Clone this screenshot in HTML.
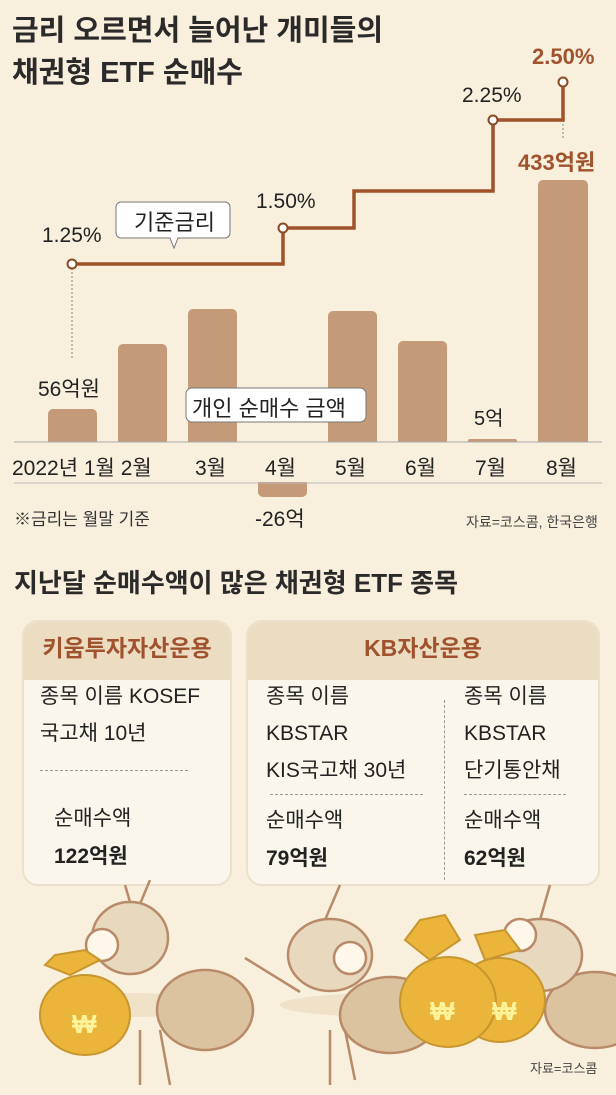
<!DOCTYPE html>
<html><head><meta charset="utf-8"><style>
body{margin:0;width:616px;height:1095px;background:#f8efdd;font-family:"Liberation Sans","Noto Sans CJK KR",sans-serif;overflow:hidden;position:relative;color:#222}
.a{position:absolute;white-space:nowrap}
</style></head><body>
<div class="a" style="left:12px;top:10px;font-size:29px;font-weight:bold;line-height:42px;color:#2a2a2a">금리 오르면서 늘어난 개미들의<br>채권형 ETF 순매수</div>
<svg class="a" style="left:0;top:0" width="616" height="600">
<g fill="#c49a78">
<rect x="48" y="409" width="49" height="40" rx="5"/>
<rect x="118" y="344" width="49" height="105" rx="5"/>
<rect x="188" y="309" width="49" height="140" rx="5"/>
<rect x="258" y="475" width="49" height="22" rx="5"/>
<rect x="328" y="311" width="49" height="138" rx="5"/>
<rect x="398" y="341" width="49" height="108" rx="5"/>
<rect x="468" y="439" width="49" height="10" rx="2"/>
<rect x="538" y="180" width="50" height="269" rx="5"/>
</g>
<rect x="0" y="442" width="616" height="40" fill="#f8efdd"/>
<line x1="14" y1="442" x2="602" y2="442" stroke="#aaa" stroke-width="1"/>
<line x1="14" y1="483" x2="602" y2="483" stroke="#bbb" stroke-width="1"/>
<line x1="72" y1="268" x2="72" y2="360" stroke="#888" stroke-dasharray="2,2"/>
<line x1="563" y1="88" x2="563" y2="140" stroke="#888" stroke-dasharray="2,2"/>
<polyline points="72,264 283,264 283,228 354,228 354,191 493,191 493,120 563,120 563,82" fill="none" stroke="#a0522d" stroke-width="3.5"/>
<g fill="#fff" stroke="#8b4a22" stroke-width="2">
<circle cx="72" cy="264" r="4.5"/><circle cx="283" cy="228" r="4.5"/><circle cx="493" cy="120" r="4.5"/><circle cx="563" cy="82" r="4.5"/>
</g>
<path d="M125,202 h100 a5,5 0 0 1 5,5 v26 a5,5 0 0 1 -5,5 h-47 l-4,10 l-4,-10 h-49 a5,5 0 0 1 -5,-5 v-26 a5,5 0 0 1 5,-5z" fill="#fff" stroke="#777"/>
<rect x="186" y="388" width="180" height="34" rx="6" fill="#fff" stroke="#777"/>
</svg>
<div class="a" style="left:134px;top:205px;font-size:22px">기준금리</div>
<div class="a" style="left:192px;top:391px;font-size:22px">개인 순매수 금액</div>
<div class="a" style="left:42px;top:224px;font-size:21px">1.25%</div>
<div class="a" style="left:256px;top:190px;font-size:21px">1.50%</div>
<div class="a" style="left:462px;top:84px;font-size:21px">2.25%</div>
<div class="a" style="left:532px;top:44px;font-size:22px;font-weight:bold;color:#a0522d">2.50%</div>
<div class="a" style="left:518px;top:145px;font-size:22px;font-weight:bold;color:#a0522d">433억원</div>
<div class="a" style="left:38px;top:373px;font-size:21px">56억원</div>
<div class="a" style="left:474px;top:402px;font-size:20px">5억</div>
<div class="a" style="left:255px;top:503px;font-size:21px">-26억</div>
<div class="a" style="left:12px;top:452px;font-size:21px">2022년 1월 2월</div>
<div class="a" style="left:195px;top:452px;font-size:21px">3월</div>
<div class="a" style="left:265px;top:452px;font-size:21px">4월</div>
<div class="a" style="left:335px;top:452px;font-size:21px">5월</div>
<div class="a" style="left:405px;top:452px;font-size:21px">6월</div>
<div class="a" style="left:475px;top:452px;font-size:21px">7월</div>
<div class="a" style="left:546px;top:452px;font-size:21px">8월</div>
<div class="a" style="left:14px;top:505px;font-size:17px;color:#333">※금리는 월말 기준</div>
<div class="a" style="left:466px;top:512px;font-size:14px;color:#444">자료=코스콤, 한국은행</div>
<div class="a" style="left:14px;top:563px;font-size:26px;font-weight:bold;color:#2a2a2a">지난달 순매수액이 많은 채권형 ETF 종목</div>

<div class="a" style="left:22px;top:620px;width:210px;height:266px;background:#fbf6ec;border:2px solid #ece0cc;border-radius:16px;overflow:hidden;box-sizing:border-box">
<div style="height:58px;background:#ecdcc2;color:#a0522d;font-size:23px;font-weight:bold;text-align:center;line-height:52px">키움투자자산운용</div></div>
<div class="a" style="left:246px;top:620px;width:354px;height:266px;background:#fbf6ec;border:2px solid #ece0cc;border-radius:16px;overflow:hidden;box-sizing:border-box">
<div style="height:58px;background:#ecdcc2;color:#a0522d;font-size:23px;font-weight:bold;text-align:center;line-height:52px">KB자산운용</div></div>
<div class="a" style="left:40px;top:678px;font-size:21px;line-height:37px">종목 이름 KOSEF<br>국고채 10년</div>
<div class="a" style="left:40px;top:770px;width:148px;border-top:1px dashed #999"></div>
<div class="a" style="left:54px;top:800px;font-size:21px;line-height:38px">순매수액<br><b>122억원</b></div>
<div class="a" style="left:266px;top:678px;font-size:21px;line-height:37px">종목 이름<br>KBSTAR<br>KIS국고채 30년</div>
<div class="a" style="left:270px;top:794px;width:153px;border-top:1px dashed #999"></div>
<div class="a" style="left:266px;top:802px;font-size:21px;line-height:38px">순매수액<br><b>79억원</b></div>
<div class="a" style="left:444px;top:700px;height:180px;border-left:1px dashed #999"></div>
<div class="a" style="left:464px;top:678px;font-size:21px;line-height:37px">종목 이름<br>KBSTAR<br>단기통안채</div>
<div class="a" style="left:464px;top:794px;width:102px;border-top:1px dashed #999"></div>
<div class="a" style="left:464px;top:802px;font-size:21px;line-height:38px">순매수액<br><b>62억원</b></div>

<svg class="a" style="left:0;top:880px" width="616" height="215">
<g stroke="#b88a68" stroke-width="2.5">
<ellipse cx="130" cy="125" rx="90" ry="12" fill="#efe2c8" stroke="none"/>
<ellipse cx="390" cy="125" rx="110" ry="12" fill="#efe2c8" stroke="none"/>
<ellipse cx="205" cy="130" rx="48" ry="40" fill="#dcc39f"/>
<ellipse cx="130" cy="58" rx="38" ry="36" fill="#e8d8bd"/>
<circle cx="102" cy="65" r="16" fill="#fff7ea"/>
<ellipse cx="390" cy="135" rx="50" ry="38" fill="#dcc39f"/>
<ellipse cx="330" cy="75" rx="42" ry="36" fill="#e8d8bd"/>
<circle cx="350" cy="78" r="16" fill="#fff7ea"/>
<ellipse cx="595" cy="130" rx="50" ry="38" fill="#dcc39f"/>
<ellipse cx="540" cy="75" rx="42" ry="36" fill="#e8d8bd"/>
<circle cx="520" cy="55" r="16" fill="#fff7ea"/>
<line x1="300" y1="112" x2="245" y2="78" fill="none"/>
<line x1="130" y1="22" x2="125" y2="5"/><line x1="140" y1="24" x2="150" y2="0"/>
<line x1="325" y1="40" x2="340" y2="5"/><line x1="540" y1="40" x2="550" y2="5"/>
<line x1="140" y1="150" x2="140" y2="205"/><line x1="160" y1="150" x2="170" y2="205"/>
<line x1="330" y1="150" x2="330" y2="205"/><line x1="345" y1="150" x2="355" y2="200"/>
</g>
<g stroke="#c7962e" stroke-width="2" fill="#eab53a">
<ellipse cx="85" cy="135" rx="45" ry="40"/><path d="M70,95 l-25,-10 l10,-10 l30,-5 l15,10z"/>
<ellipse cx="500" cy="120" rx="45" ry="42"/><path d="M485,80 l-10,-25 l30,-5 l15,20z"/>
<ellipse cx="448" cy="122" rx="48" ry="45"/><path d="M430,80 l-25,-20 l15,-20 l25,-5 l15,25z"/>
</g>
<g fill="#fdf39a" font-size="26" font-weight="bold" font-family="Liberation Sans,sans-serif"><text x="72" y="153">₩</text><text x="430" y="140">₩</text><text x="492" y="140">₩</text></g>
<text x="530" y="193" font-size="13" fill="#444" font-family="Liberation Sans,Noto Sans CJK KR,sans-serif">자료=코스콤</text>
</svg>
</body></html>
